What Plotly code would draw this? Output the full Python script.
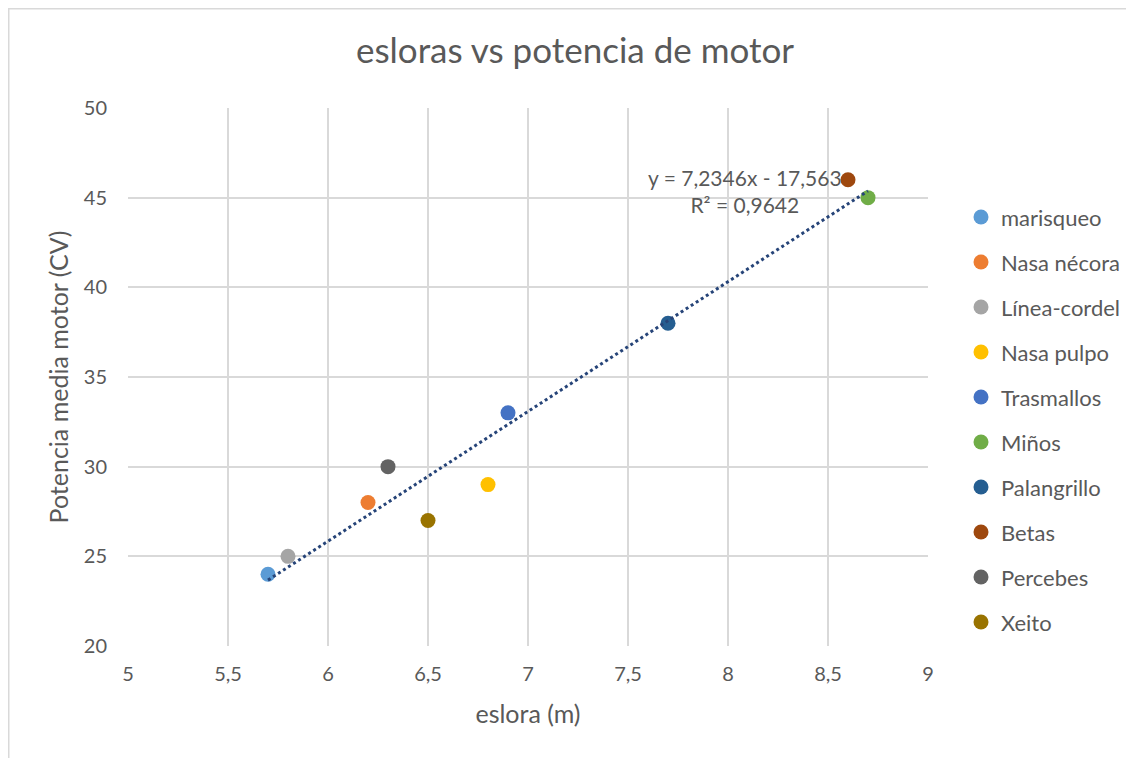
import numpy as np
import plotly.graph_objects as go

# Data
series_names = ["marisqueo", "Nasa nécora", "Línea-cordel", "Nasa pulpo", "Trasmallos",
                "Miños", "Palangrillo", "Betas", "Percebes", "Xeito"]
eslora = [5.7, 6.2, 5.8, 6.8, 6.9, 8.7, 7.7, 8.6, 6.3, 6.5]
potencia = [24, 28, 25, 29, 33, 45, 38, 46, 30, 27]
colors = ["#5B9BD5", "#ED7D31", "#A5A5A5", "#FFC000", "#4472C4",
          "#70AD47", "#255E91", "#9E480E", "#636363", "#997300"]
x_ticks = [5, 5.5, 6, 6.5, 7, 7.5, 8, 8.5, 9]
y_ticks = [20, 25, 30, 35, 40, 45, 50]

FONT = "Lato, Noto Sans, sans-serif"
TXT = "#595959"

fig = go.Figure()
for name, xv, yv, c in zip(series_names, eslora, potencia, colors):
    fig.add_trace(go.Scatter(x=[xv], y=[yv], mode="markers", name=name,
                             legendgroup=name,
                             marker=dict(size=15, color=c)))

# Linear trendline
slope, intercept = np.polyfit(eslora, potencia, 1)
pred = np.polyval([slope, intercept], eslora)
ss_res = np.sum((np.array(potencia) - pred) ** 2)
ss_tot = np.sum((np.array(potencia) - np.mean(potencia)) ** 2)
r2 = 1 - ss_res / ss_tot
xl = np.array([min(eslora), max(eslora)])
fig.add_trace(go.Scatter(x=xl, y=slope * xl + intercept, mode="lines",
                         line=dict(color="#264478", width=3, dash="dot"),
                         showlegend=False, hoverinfo="skip"))

def fmt(v, d):
    return f"{v:.{d}f}".replace(".", ",")

eq = f"y = {fmt(slope, 4)}x - {fmt(abs(intercept), 3)}<br>R² = {fmt(r2, 4)}"
fig.add_annotation(x=8.085, y=45.35, xref="x", yref="y", text=eq, showarrow=False,
                   align="center", font=dict(family=FONT, size=21, color=TXT))

L, T, PW, PH = 120, 100, 800, 538
fig.update_layout(
    width=1134, height=758,
    margin=dict(l=L, r=1134 - L - PW, t=T, b=758 - T - PH),
    paper_bgcolor="white", plot_bgcolor="white",
    separators=",.",
    title=dict(text="esloras vs potencia de motor", x=0.5, xanchor="center",
               y=1 - 43 / 758, yanchor="middle",
               font=dict(family=FONT, size=35, color=TXT)),
    font=dict(family=FONT, size=20, color=TXT),
    xaxis=dict(range=[5, 9], tickvals=x_ticks, showgrid=True, gridcolor="#D9D9D9",
               gridwidth=1.5, zeroline=False, showline=False, ticks="",
               tickfont=dict(size=20, color=TXT), ticklabelstandoff=14,
               title=dict(text="eslora (m)", font=dict(size=25, color=TXT), standoff=21)),
    yaxis=dict(range=[20, 50], tickvals=y_ticks, showgrid=True, gridcolor="#D9D9D9",
               gridwidth=1.5, zeroline=False, showline=False, ticks="",
               tickfont=dict(size=20, color=TXT), ticklabelstandoff=20,
               title=dict(text="Potencia media motor (CV)", font=dict(size=25, color=TXT),
                          standoff=8)),
    legend=dict(x=(953 - L) / PW, y=0.836, xanchor="left", yanchor="top",
                font=dict(size=22, color=TXT), tracegroupgap=13.4,
                itemsizing="trace", bgcolor="rgba(0,0,0,0)"),
    shapes=[dict(type="rect", xref="paper", yref="paper",
                 x0=(0.75 - L) / PW, x1=1.3, y0=-0.25, y1=1 + (T - 0.75) / PH,
                 line=dict(color="#D9D9D9", width=1.5), fillcolor="rgba(0,0,0,0)")],
)

fig.write_html("out.html")
